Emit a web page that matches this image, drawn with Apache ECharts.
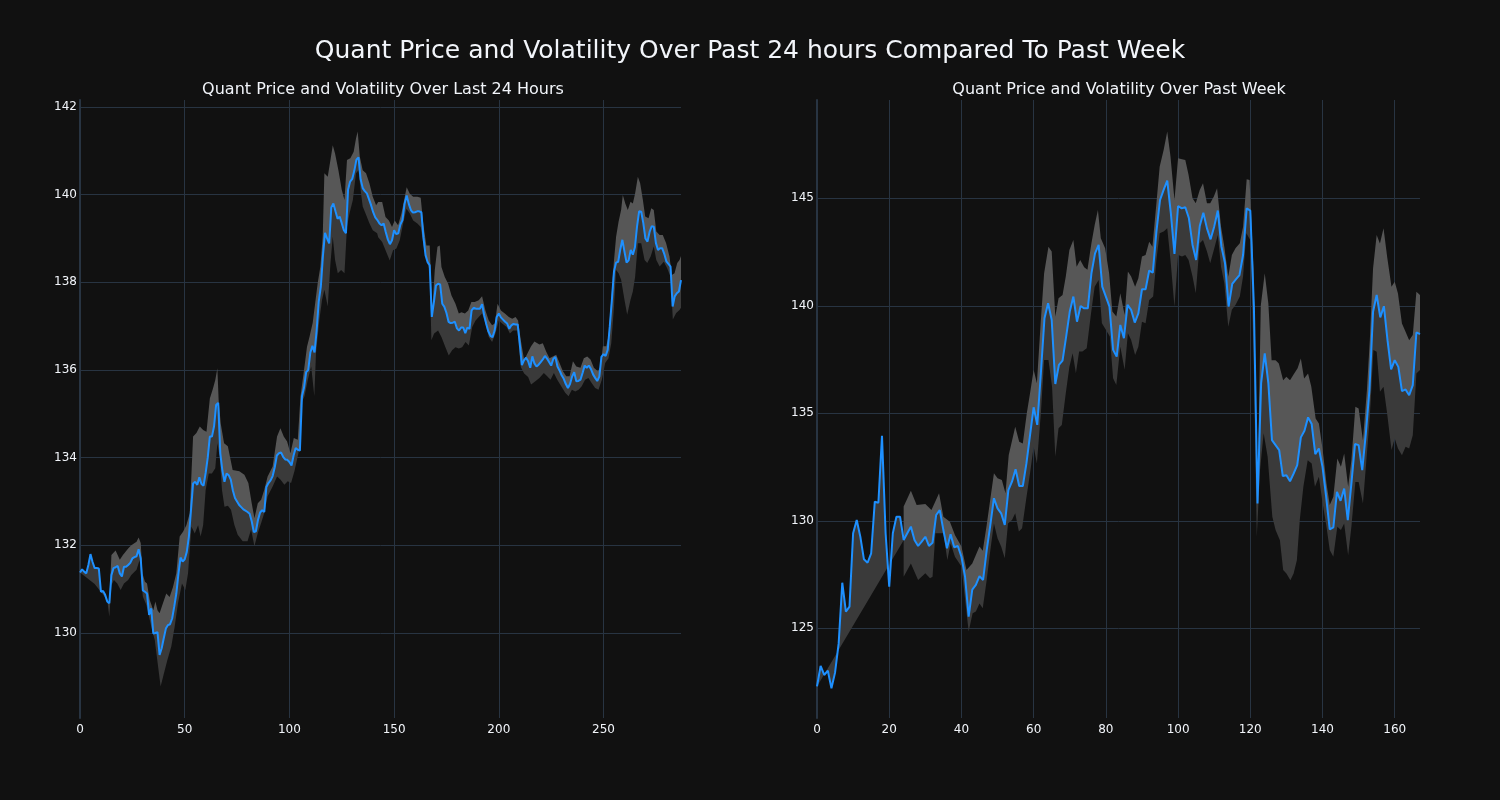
<!DOCTYPE html>
<html><head><meta charset="utf-8">
<script src="https://cdn.jsdelivr.net/npm/echarts@6/dist/echarts.min.js"></script>
<style>html,body{margin:0;padding:0;background:#111111;}#c{width:1500px;height:800px;}</style>
</head><body><div id="c"></div>
<script>
// ---- Data ----
const leftPrice = [131.38,131.45,131.40,131.36,131.55,131.80,131.62,131.48,131.48,131.47,
130.94,130.96,130.87,130.72,130.68,131.32,131.48,131.50,131.53,131.36,
131.29,131.51,131.51,131.55,131.60,131.70,131.73,131.75,131.91,131.70,
130.97,130.94,130.90,130.41,130.56,129.99,130.00,130.02,129.50,129.65,
129.88,130.10,130.18,130.20,130.33,130.60,130.90,131.35,131.72,131.63,
131.68,131.85,132.20,132.80,133.41,133.45,133.38,133.55,133.40,133.36,
133.65,134.00,134.48,134.48,134.71,135.20,135.25,134.10,133.70,133.45,
133.64,133.60,133.50,133.25,133.08,133.00,132.92,132.87,132.82,132.79,
132.76,132.72,132.55,132.30,132.32,132.58,132.75,132.80,132.76,133.33,
133.42,133.48,133.58,133.78,134.05,134.10,134.12,134.02,133.96,133.95,
133.90,133.82,134.05,134.22,134.18,134.16,135.40,135.60,135.95,136.00,
136.40,136.55,136.40,136.90,137.56,137.90,138.60,139.13,139.00,138.89,
139.71,139.80,139.62,139.45,139.50,139.35,139.19,139.12,140.11,140.30,
140.36,140.55,140.80,140.85,140.35,140.15,140.08,140.03,139.90,139.76,
139.60,139.48,139.42,139.34,139.30,139.34,139.15,138.98,138.87,138.96,
139.19,139.10,139.12,139.32,139.42,139.79,139.98,139.79,139.65,139.59,
139.60,139.62,139.62,139.60,139.03,138.62,138.46,138.39,137.21,137.55,
137.93,137.97,137.95,137.51,137.44,137.30,137.10,137.07,137.08,137.10,
136.95,136.90,136.97,136.97,136.84,136.97,136.94,137.36,137.42,137.40,
137.40,137.40,137.50,137.25,137.05,136.88,136.78,136.75,136.90,137.21,
137.29,137.20,137.15,137.10,137.06,136.94,137.02,137.05,137.04,137.04,
136.60,136.11,136.22,136.28,136.20,136.05,136.31,136.15,136.08,136.12,
136.18,136.24,136.32,136.26,136.18,136.10,136.25,136.30,136.08,135.99,
135.88,135.80,135.68,135.59,135.68,135.85,135.95,135.74,135.75,135.78,
135.93,136.10,136.05,136.10,136.02,135.90,135.82,135.75,135.85,136.30,
136.36,136.32,136.46,137.00,137.60,138.25,138.45,138.47,138.75,138.97,
138.70,138.45,138.50,138.74,138.63,138.80,139.27,139.62,139.61,139.35,
139.00,138.93,139.15,139.28,139.27,138.90,138.74,138.78,138.78,138.65,
138.48,138.42,138.36,137.45,137.68,137.75,137.79,138.05];

const leftUpper = [[14,130.68],[15,131.78],[17,131.88],[19,131.67],[20.5,131.78],[23,131.93],[24.5,132.0],[27,132.08],[28,132.18],[29,132.05],[29.8,131.36],[31,131.17],[32,131.13],[33.3,130.75],[35,130.52],[36,130.72],[37,130.52],[38,130.45],[39.6,130.68],[41.2,130.90],[42.8,130.82],[44.4,131.05],[46,131.36],[47.6,132.2],[49.2,132.31],[50.8,132.46],[52.4,132.73],[54,134.48],[55.6,134.56],[57.2,134.71],[58.8,134.63],[60.4,134.59],[62,135.35],[63.5,135.58],[64.6,135.77],[65.6,136.04],[66.2,135.32],[67.2,134.78],[68.8,134.33],[70.6,134.26],[72.9,133.72],[76.1,133.69],[78.5,133.61],[80.4,133.42],[82,132.96],[83.3,132.62],[84.9,132.96],[86.5,133.04],[88,133.27],[89.6,133.57],[92,133.8],[94.1,134.48],[95.7,134.67],[97.3,134.48],[98.9,134.37],[100.5,134.1],[102.1,134.45],[104,134.41],[105.3,135.4],[106.8,135.93],[108.4,136.53],[109.6,136.76],[111.1,137.07],[112.3,137.52],[113.5,137.98],[114.8,138.36],[115.9,139.04],[116.7,140.49],[118.3,140.41],[119.6,140.79],[120.7,141.13],[121.8,140.94],[123.4,140.56],[125,140.11],[126.3,139.88],[127.5,140.79],[129.1,140.83],[130.7,140.98],[131.8,141.28],[132.6,141.44],[133.6,140.87],[135,140.56],[136.6,140.49],[138.2,140.26],[139.8,139.95],[141.4,139.76],[142.4,139.83],[144.3,139.83],[145.9,139.49],[147.5,139.41],[149,139.26],[150.3,139.41],[151.9,139.3],[153.5,139.57],[155.1,139.95],[156,140.17],[157.5,140.02],[159.1,139.95],[161.1,139.95],[162.7,139.93],[163.9,139.34],[165.4,138.84],[167,138.84],[168.2,137.36],[169.4,138.27],[170.7,138.81],[171.8,138.84],[172.6,138.35],[174.2,138.12],[175.8,137.97],[177.4,137.7],[179.3,137.51],[180.9,137.29],[182.2,137.32],[183.8,137.29],[185.4,137.36],[186.9,137.55],[188.5,137.55],[190.4,137.59],[192,137.68],[193.6,137.36],[195.2,137.13],[196.8,137.02],[198.1,137.06],[199.4,137.51],[201,137.36],[202.9,137.29],[204.8,137.21],[206.4,137.17],[208,137.21],[209.2,137.13],[210.5,136.68],[212.1,136.22],[214,136.41],[215.4,136.54],[217,136.65],[219.4,136.58],[221,136.61],[222.6,136.42],[224.2,136.27],[225.8,136.31],[227.4,136.35],[229,136.16],[230.6,135.97],[232.2,135.86],[233.8,135.86],[235.4,136.2],[237,136.08],[239,136.05],[240.6,136.27],[242.2,136.31],[243.8,136.24],[245.4,136.05],[247.3,135.97],[248.6,136.08],[249.7,136.54],[251.3,136.54],[252.4,136.77],[253.7,137.6],[254.9,138.44],[256,139.04],[257.2,139.39],[258.4,139.65],[259.2,139.99],[260.4,139.8],[261.6,139.65],[262.9,139.84],[264,139.8],[265.1,140.03],[266.4,140.41],[267.5,140.26],[268.8,139.88],[269.9,139.5],[271.5,139.46],[272.8,139.69],[274,139.65],[275.2,139.16],[276.8,139.08],[278.3,139.08],[279.9,138.89],[281.5,138.59],[282.6,138.17],[283.9,138.21],[285.2,138.44],[286.3,138.51],[287,138.6]];

const leftLower = [[0,131.38],[7,131.12],[13,130.75],[14,130.37],[15,131.09],[16.2,131.21],[17.8,131.13],[19.4,130.98],[21,131.13],[23,131.21],[24.5,131.32],[27,131.44],[28.5,131.67],[30,130.83],[31.7,130.64],[33.3,130.3],[34.4,130.07],[35.7,129.84],[37.3,129.23],[38.5,128.78],[40.1,129.08],[41.7,129.38],[43.6,129.69],[45.2,130.14],[46.8,130.68],[48.7,131.13],[50.3,130.98],[51.6,131.36],[53.2,132.43],[54.8,132.27],[56.4,132.46],[57.6,132.2],[58.8,132.46],[60,133.26],[61.5,133.64],[63,133.64],[64.6,133.76],[65.6,134.33],[66.7,134.02],[67.8,133.26],[69,132.88],[70.6,132.9],[72.1,132.81],[73.7,132.47],[75.3,132.24],[77.7,132.09],[80,132.09],[81.7,132.36],[83.3,131.98],[84.9,132.28],[86.5,132.51],[88,132.74],[89.6,133.12],[92,133.34],[94.1,133.57],[95.7,133.5],[97.6,133.38],[99.2,133.46],[100.8,133.42],[102.4,133.69],[104.3,134.1],[105.6,135.24],[107.2,135.4],[108.8,135.78],[110.4,136.08],[111.9,135.4],[112.7,136.38],[114.3,137.14],[115.6,137.6],[116.7,137.83],[118.3,137.45],[119.6,138.43],[120.7,139.04],[121.8,138.51],[123.1,138.21],[124.7,138.28],[126.3,138.21],[127.5,139.27],[128.7,139.57],[130.3,139.88],[131.8,140.49],[133,140.56],[134.2,140.03],[135,139.73],[136.6,139.54],[138.2,139.35],[139.8,139.19],[141.9,139.12],[142.4,139.03],[144.3,138.92],[145.9,138.73],[147.9,138.5],[149.5,138.73],[151.1,138.77],[152.7,138.96],[154.3,139.34],[155.9,139.68],[157.5,139.57],[159.1,139.41],[161.1,139.34],[162.7,139.26],[164.3,138.77],[165.9,138.43],[167,138.27],[167.8,136.68],[169.1,136.83],[171,136.9],[172.6,136.75],[174.5,136.52],[176.1,136.33],[177.7,136.45],[179.3,136.52],[180.9,136.49],[182.5,136.52],[184.1,136.64],[185.7,136.56],[187.3,136.98],[188.9,137.13],[190.4,137.21],[192,137.29],[193.6,137.06],[195.2,136.75],[196.8,136.64],[198.4,136.83],[200,137.13],[201.6,137.06],[203.7,136.98],[205.3,136.83],[206.8,136.9],[208.9,136.9],[210.5,136.07],[212.1,135.92],[214,135.84],[215.4,135.67],[217.3,135.74],[219.4,135.82],[221.5,135.93],[223.1,135.86],[224.7,135.78],[226.3,135.93],[227.9,135.78],[229.8,135.63],[231.7,135.48],[233.3,135.4],[234.9,135.55],[236.5,135.51],[238.1,135.55],[239.6,135.63],[241.2,135.78],[242.8,135.82],[244.4,135.7],[246,135.59],[247.6,135.55],[249.2,135.78],[250.8,136.16],[252.4,136.27],[253.7,136.61],[254.9,137.37],[256,138.28],[257.2,138.21],[258.4,138.06],[260,137.6],[261.3,137.26],[262.9,137.6],[264,137.79],[265.1,138.13],[266.4,138.89],[268,138.89],[269.6,138.51],[270.9,138.44],[272.5,138.59],[274,138.82],[275.2,138.51],[276.8,138.36],[278.8,138.47],[280.4,138.32],[282,138.13],[283.1,137.15],[284.7,137.3],[286.3,137.37],[287,137.42]];

const rightPrice = [122.30,123.25,122.83,123.03,122.21,122.94,124.30,127.12,125.78,126.01,
129.42,130.04,129.26,128.21,128.05,128.49,130.89,130.84,133.95,129.42,
126.94,129.42,130.19,130.19,129.11,129.42,129.73,129.11,128.83,129.03,
129.26,128.83,128.98,130.27,130.50,129.57,128.72,129.37,128.77,128.83,
128.33,127.40,125.54,126.80,127.02,127.43,127.25,128.64,129.80,131.05,
130.58,130.35,129.81,131.43,131.82,132.40,131.62,131.62,132.67,133.99,
135.28,134.46,136.86,139.42,140.12,139.34,136.36,137.25,137.45,138.57,
139.73,140.43,139.26,139.99,139.88,139.88,141.51,142.44,142.83,140.89,
140.43,139.96,137.95,137.64,139.11,138.49,140.04,139.81,139.22,139.65,
140.77,140.77,141.64,141.54,143.45,144.92,145.39,145.82,144.30,142.41,
144.64,144.53,144.58,144.07,142.83,142.13,143.71,144.33,143.60,143.09,
143.68,144.43,142.75,141.98,139.96,141.02,141.23,141.43,142.36,144.53,
144.43,139.96,130.81,136.40,137.79,136.40,133.75,133.52,133.29,132.08,
132.12,131.84,132.20,132.59,133.88,134.19,134.81,134.50,133.10,133.36,
132.51,131.12,129.60,129.69,131.35,130.93,131.50,130.03,131.74,133.57,
133.52,132.36,134.06,136.08,139.72,140.50,139.46,139.98,138.40,137.04,
137.47,137.16,136.03,136.11,135.84,136.31,138.76,138.68];

const rightUpper = [[24,130.66],[26,131.4],[27.6,130.74],[30,130.78],[31.7,130.5],[33.8,131.28],[35,130.19],[36.8,129.96],[38.2,129.34],[40,128.8],[41.4,127.71],[43,128.02],[45,128.8],[45.9,128.61],[47,129.81],[49,132.21],[50,131.98],[51.2,131.9],[52.2,131.28],[53.1,133.06],[54.9,134.38],[56,133.68],[57,133.6],[58.1,135.0],[59,135.93],[60,137.02],[60.9,136.4],[62,139.34],[62.9,141.51],[64.1,142.75],[65,142.52],[66,139.5],[66.9,140.35],[68,140.5],[68.9,141.36],[69.9,142.6],[71,143.06],[71.9,141.82],[72.9,142.13],[74,141.79],[74.9,141.67],[76,142.91],[76.9,143.76],[77.8,144.46],[78.6,143.14],[79.8,142.67],[80.9,141.51],[81.8,139.73],[82.9,139.5],[84,140.58],[85.2,139.57],[86.1,141.59],[87,141.36],[88.1,140.89],[89,141.28],[90,142.29],[91,142.36],[92,142.98],[92.9,142.75],[94,144.77],[94.9,146.47],[96,147.25],[97,148.1],[97.9,146.94],[99,144.92],[100,146.86],[101.1,146.81],[102,146.78],[102.9,146.09],[104,145.0],[104.9,144.77],[106,145.39],[106.9,145.7],[108,144.77],[108.9,144.77],[109.9,145.08],[110.8,145.47],[111.9,143.68],[112.8,142.75],[113.9,141.36],[114.9,142.36],[115.9,142.67],[117.1,142.91],[118,143.68],[119,145.88],[119.8,145.85],[120.9,141.67],[122,131.2],[122.9,140.0],[124,141.51],[125,140.11],[125.9,137.47],[127,137.47],[127.9,137.32],[129.1,136.54],[130,136.7],[131,136.54],[131.9,136.78],[133.1,137.09],[134,137.55],[134.9,136.62],[136,136.85],[136.9,136.23],[138.1,134.76],[139,134.53],[140,133.36],[141.1,131.74],[142,130.73],[143,131.12],[144.1,132.9],[145.1,132.51],[146,133.13],[147.1,131.58],[148,132.82],[149.1,135.3],[150,135.22],[151.2,133.75],[152.3,136.08],[153.1,138.4],[154,141.74],[155,143.29],[155.9,142.9],[156.9,143.6],[157.9,142.28],[159.1,140.88],[160,141.12],[160.9,140.57],[162,139.18],[163,138.79],[164,138.4],[165,138.64],[166,140.65],[167,140.5]];

const rightLower = [[0,122.3],[24,129.1],[24,127.4],[26,128.02],[28,127.25],[30,127.56],[31.3,127.33],[32,127.4],[32.8,129.42],[35,129.42],[36.1,128.18],[37,128.95],[38.2,128.33],[40,127.87],[42,124.85],[43.1,125.7],[44,125.78],[45,126.16],[45.9,125.93],[47,127.25],[47.9,128.49],[49,129.88],[50,129.19],[51,128.8],[52,128.26],[52.9,129.88],[54,130.04],[54.9,130.35],[55.9,129.5],[56.8,129.65],[57.9,130.97],[59,132.21],[60,133.45],[60.9,132.67],[62,135.0],[62.9,137.48],[64.1,137.48],[65.1,136.24],[66,132.98],[66.9,134.3],[67.8,134.46],[68.9,135.93],[69.9,137.17],[70.8,137.79],[71.7,136.86],[72.6,137.87],[73.5,137.87],[74.7,138.02],[75.9,139.65],[76.9,140.89],[78,141.2],[78.9,139.19],[80,138.88],[81.1,138.57],[82,136.63],[82.9,136.32],[84,138.1],[85.2,137.02],[86.1,138.72],[87,138.41],[88.1,137.71],[89,138.1],[90,139.26],[91,139.19],[92,140.27],[93.1,140.43],[94,142.13],[94.9,143.37],[96,143.45],[97,143.6],[97.9,142.13],[99,139.96],[100,142.36],[101.1,142.29],[102,142.36],[102.9,142.13],[104,141.36],[104.9,140.58],[106,142.91],[106.9,143.06],[108,142.52],[108.9,141.98],[109.9,142.6],[111,143.29],[111.9,141.82],[112.8,141.05],[113.9,139.03],[114.9,139.81],[115.9,140.04],[117.1,140.43],[118,141.36],[118.9,143.37],[120,143.06],[120.9,137.79],[121.8,129.26],[122.7,132.36],[123.7,134.07],[124.8,132.98],[126.1,130.19],[127,129.57],[128.2,129.1],[129.1,127.71],[130,127.55],[131.1,127.24],[132,127.55],[132.9,128.17],[133.7,130.03],[134.7,131.58],[135.9,132.82],[137,132.67],[137.9,131.58],[139,132.05],[139.9,130.96],[141.1,129.72],[142,128.64],[143,128.33],[144.1,129.72],[145.1,129.57],[146,129.88],[147.1,128.4],[148,129.72],[149.1,131.81],[150,131.81],[151.2,130.81],[152.3,133.13],[153.1,134.84],[154.1,137.94],[155,137.86],[155.9,136.0],[156.9,136.23],[157.9,134.99],[159.1,133.29],[160,133.83],[160.9,133.36],[162,133.05],[163,133.44],[164,133.36],[165,133.98],[166,136.85],[167,137.01]];

const leftXTicks = [0,50,100,150,200,250];
const leftYTicks = [130,132,134,136,138,140,142];
const rightXTicks = [0,20,40,60,80,100,120,140,160];
const rightYTicks = [125,130,135,140,145];

const mainTitle = 'Quant Price and Volatility Over Past 24 hours Compared To Past Week';
const leftTitle = 'Quant Price and Volatility Over Last 24 Hours';
const rightTitle = 'Quant Price and Volatility Over Past Week';

// ---- Chart ----
const FONT = 'DejaVu Sans';
const TXT = '#f2f5fa';
const GRIDC = '#283442';

function pricePairs(arr) { return arr.map(function (v, i) { return [i, v]; }); }

function bandSeries(price, band, side, idx, color) {
  const x0 = band[0][0], x1 = band[band.length - 1][0];
  const pr = pricePairs(price).filter(function (p) { return p[0] >= x0 && p[0] <= x1; });
  const pts = side === 'upper' ? band.concat(pr.slice().reverse()) : pr.concat(band.slice().reverse());
  return {
    type: 'custom', xAxisIndex: idx, yAxisIndex: idx, silent: true, z: 1, clip: true,
    data: [band[0]], encode: { x: 0, y: 1 },
    renderItem: function (params, api) {
      return {
        type: 'polygon',
        shape: { points: pts.map(function (p) { return api.coord(p); }) },
        style: { fill: color, stroke: null }
      };
    }
  };
}

function xAxis(idx, max, ticks) {
  return {
    type: 'value', gridIndex: idx, min: 0, max: max,
    axisLine: { show: false },
    axisTick: { show: false, customValues: ticks },
    axisLabel: { customValues: ticks, color: TXT, fontFamily: FONT, fontSize: 12, margin: 6 },
    splitLine: { show: true, lineStyle: { color: GRIDC, width: 1 } }
  };
}
function yAxis(idx, min, max, ticks) {
  return {
    type: 'value', gridIndex: idx, min: min, max: max,
    axisLine: { show: true, onZero: false, lineStyle: { color: GRIDC, width: 2 } },
    axisTick: { show: false, customValues: ticks },
    axisLabel: { customValues: ticks, color: TXT, fontFamily: FONT, fontSize: 12, margin: 3 },
    splitLine: { show: true, lineStyle: { color: GRIDC, width: 1 } }
  };
}

const chart = echarts.init(document.getElementById('c'), null, { renderer: 'canvas' });
chart.setOption({
  backgroundColor: '#111111',
  animation: false,
  title: [
    { text: mainTitle, left: 'center', top: 34, textStyle: { color: TXT, fontFamily: FONT, fontSize: 25, fontWeight: 'normal' } },
    { text: leftTitle, left: 378, top: 77, textAlign: 'center', textStyle: { color: TXT, fontFamily: FONT, fontSize: 16, fontWeight: 'normal' } },
    { text: rightTitle, left: 1114, top: 77, textAlign: 'center', textStyle: { color: TXT, fontFamily: FONT, fontSize: 16, fontWeight: 'normal' } }
  ],
  grid: [
    { left: 80, top: 100, width: 601, height: 618 },
    { left: 817, top: 100, width: 603, height: 618 }
  ],
  xAxis: [xAxis(0, 287, leftXTicks), xAxis(1, 167, rightXTicks)],
  yAxis: [yAxis(0, 128.06, 142.16, leftYTicks), yAxis(1, 120.83, 149.57, rightYTicks)],
  series: [
    bandSeries(leftPrice, leftLower, 'lower', 0, '#3a3a3a'),
    bandSeries(leftPrice, leftUpper, 'upper', 0, '#575757'),
    { type: 'line', xAxisIndex: 0, yAxisIndex: 0, data: pricePairs(leftPrice), showSymbol: false, z: 3,
      lineStyle: { color: '#1E90FF', width: 2 }, silent: true },
    bandSeries(rightPrice, rightLower, 'lower', 1, '#3a3a3a'),
    bandSeries(rightPrice, rightUpper, 'upper', 1, '#575757'),
    { type: 'line', xAxisIndex: 1, yAxisIndex: 1, data: pricePairs(rightPrice), showSymbol: false, z: 3,
      lineStyle: { color: '#1E90FF', width: 2 }, silent: true }
  ]
});
</script>
</body></html>
